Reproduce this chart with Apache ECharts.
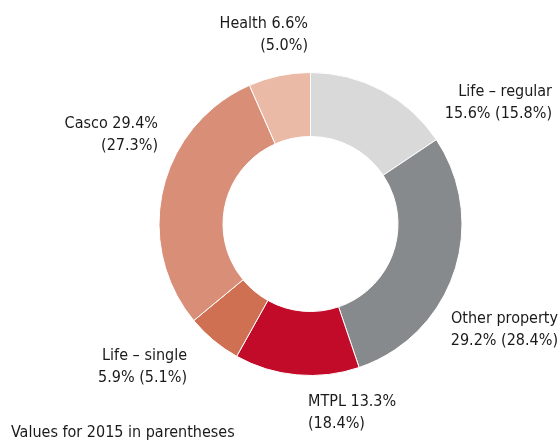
<!DOCTYPE html>
<html>
<head>
<meta charset="utf-8">
<script src="https://cdn.jsdelivr.net/npm/echarts@6/dist/echarts.min.js"></script>
<style>
  html, body { margin: 0; padding: 0; background: #fff; }
  #chart { width: 560px; height: 444px; }
</style>
</head>
<body>
<div id="chart"></div>
<script>
// shares 2016, clockwise from 12 o'clock
var categories = ["Life – regular", "Other property", "MTPL", "Life – single", "Casco", "Health"];
var values2016 = [15.6, 29.2, 13.3, 5.9, 29.4, 6.6];
var values2015 = [15.8, 28.4, 18.4, 5.1, 27.3, 5.0];
var colors = ["#d9d9d9", "#878a8c", "#c20a29", "#d07052", "#d98e77", "#ebbaa6"];

var font = "'Liberation Sans Narrow', 'DejaVu Sans Condensed', 'Roboto', sans-serif";

// label text per slice
function labelText(i) {
  var a = values2016[i].toFixed(1) + "%";
  var b = "(" + values2015[i].toFixed(1) + "%)";
  var n = categories[i];
  if (n === "Health" || n === "Casco" || n === "MTPL") return n + " " + a + "\n" + b;
  return n + "\n" + a + " " + b;
}

// where each label sits: [x, y(center), align]
var labelSpots = [
  [552, 103, "right"],
  [558, 330, "right"],
  [308, 413, "left"],
  [187, 367, "right"],
  [158, 135, "right"],
  [308, 35, "right"]
];

var chart = echarts.init(document.getElementById("chart"));
chart.setOption({
  animation: false,
  series: [{
    type: "pie",
    center: [310.5, 224],
    radius: [87.5, 151.5],
    startAngle: 90,
    clockwise: true,
    silent: true,
    itemStyle: { borderColor: "#fff", borderWidth: 1 },
    label: {
      show: true,
      formatter: function (p) { return labelText(p.dataIndex); },
      fontFamily: font,
      fontSize: 16,
      lineHeight: 22,
      color: "#1a1a1a",
      overflow: "none",
      width: 200
    },
    labelLine: { show: false },
    labelLayout: function (p) {
      var s = labelSpots[p.dataIndex];
      return { x: s[0], y: s[1], align: s[2], verticalAlign: "middle", hideOverlap: false };
    },
    data: categories.map(function (c, i) {
      return { name: c, value: values2016[i], itemStyle: { color: colors[i] } };
    })
  }],
  graphic: [{
    type: "text",
    left: 11,
    top: 425,
    style: { text: "Values for 2015 in parentheses", font: "16px " + font, fill: "#1a1a1a" }
  }]
});
</script>
</body>
</html>
